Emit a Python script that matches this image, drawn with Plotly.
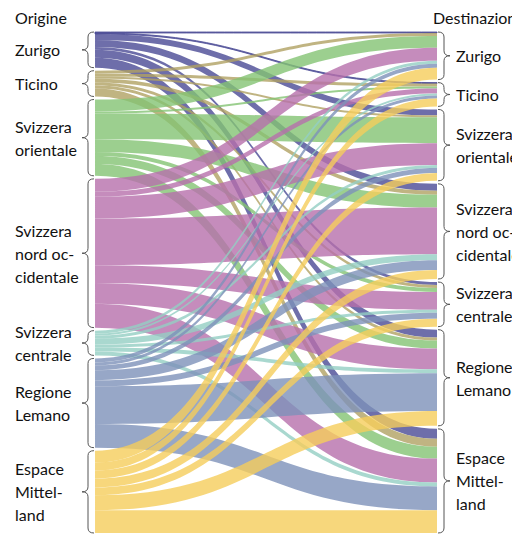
import plotly.graph_objects as go

# ---------------- data ----------------
regions = ["Zurigo", "Ticino", "Svizzera orientale", "Svizzera nord occidentale",
           "Svizzera centrale", "Regione Lemano", "Espace Mittelland"]
label_lines = [["Zurigo"], ["Ticino"], ["Svizzera", "orientale"], ["Svizzera", "nord oc-", "cidentale"],
               ["Svizzera", "centrale"], ["Regione", "Lemano"], ["Espace", "Mittel-", "land"]]

# flows from each origin to destinations (Zurigo, Ticino, Sv. orientale, Sv. nord occ., Sv. centrale, Lemano, Mittelland)
from_zurigo = [1, 1, 6, 7, 3, 8, 10]
from_ticino = [3, 3, 2, 4, 3, 3, 8]
from_orientale = [12, 2, 26, 13, 4, 8, 12]
from_nordocc = [13, 5, 22, 47, 18, 21, 24]
from_centrale = [3, 2, 3, 6, 3, 4, 4]
from_lemano = [4, 3, 5, 10, 6, 38, 24]
from_mittelland = [12, 8, 8, 9, 8, 15, 23]

flows = [from_zurigo, from_ticino, from_orientale, from_nordocc,
         from_centrale, from_lemano, from_mittelland]

colors = ["rgba(74,74,149,0.8)", "rgba(176,161,99,0.8)", "rgba(131,195,115,0.8)",
          "rgba(183,111,171,0.8)", "rgba(148,206,195,0.8)", "rgba(125,145,185,0.8)",
          "rgba(245,205,91,0.8)"]

# ---------------- layout geometry ----------------
W, H = 512, 535
top, bottom = 32, 533
left_x, right_x = 95, 437
pad = 3
n = len(regions)

src, tgt, val, col = [], [], [], []
for i, row in enumerate(flows):
    for j, v in enumerate(row):
        src.append(i)
        tgt.append(n + j)
        val.append(v)
        col.append(colors[i])

out_tot = [sum(r) for r in flows]
in_tot = [sum(flows[i][j] for i in range(n)) for j in range(n)]
total = sum(out_tot)
Hd = bottom - top
ky = (Hd - (n - 1) * pad) / total


def spans(tots):
    res, y = [], 0.0
    for t in tots:
        res.append((y, y + t * ky))
        y += t * ky + pad
    return res


left_sp = spans(out_tot)
right_sp = spans(in_tot)
node_x = [0.0001] * n + [1.0] * n
node_y = [((a + b) / 2) / Hd for a, b in left_sp] + [((a + b) / 2) / Hd for a, b in right_sp]

fig = go.Figure(go.Sankey(
    arrangement="fixed",
    domain=dict(x=[(left_x - 0.5) / W, (right_x + 0.5) / W], y=[1 - bottom / H, 1 - top / H]),
    node=dict(label=[""] * (2 * n), x=node_x, y=node_y, pad=pad, thickness=1,
              color="rgba(0,0,0,0)", line=dict(width=0)),
    link=dict(source=src, target=tgt, value=val, color=col),
    hoverinfo="none",
))

FONT = "Lato, Liberation Sans, sans-serif"
FSIZE = 16
LINE = 23


def px(x):
    return x / W


def py(y):
    return 1 - y / H


def brace(a, b, xi, xb, xt, r=5):
    m = (a + b) / 2
    pts = [
        f"M {px(xi)},{py(a)}",
        f"Q {px(xb)},{py(a)} {px(xb)},{py(a + r)}",
        f"L {px(xb)},{py(m - r)}",
        f"Q {px(xb)},{py(m)} {px(xt)},{py(m)}",
        f"Q {px(xb)},{py(m)} {px(xb)},{py(m + r)}",
        f"L {px(xb)},{py(b - r)}",
        f"Q {px(xb)},{py(b)} {px(xi)},{py(b)}",
    ]
    return dict(type="path", path=" ".join(pts), xref="paper", yref="paper",
                line=dict(color="#555555", width=1))


def label(x, ymid, lines, out):
    k = len(lines)
    for i, t in enumerate(lines):
        yy = ymid + (i - (k - 1) / 2) * LINE
        out.append(dict(x=px(x), y=py(yy), xref="paper", yref="paper", text=t,
                        showarrow=False, xanchor="left", yanchor="middle",
                        font=dict(family=FONT, size=FSIZE, color="#111111")))


shapes = []
annotations = []
for k in range(n):
    a, b = left_sp[k]
    a += top
    b += top
    shapes.append(brace(a, b, 94, 88, 82))
    label(13, (a + b) / 2, label_lines[k], annotations)
    a, b = right_sp[k]
    a += top
    b += top
    shapes.append(brace(a, b, 438, 444, 450))
    label(454, (a + b) / 2, label_lines[k], annotations)

label(13, 17, ["Origine"], annotations)
label(431, 17, ["Destinazione"], annotations)

fig.update_layout(width=W, height=H, margin=dict(l=0, r=0, t=0, b=0),
                  paper_bgcolor="white", plot_bgcolor="white",
                  shapes=shapes, annotations=annotations, showlegend=False)

fig.write_html("out.html", config={"displayModeBar": False},
               post_script="document.body.style.margin='0';")
